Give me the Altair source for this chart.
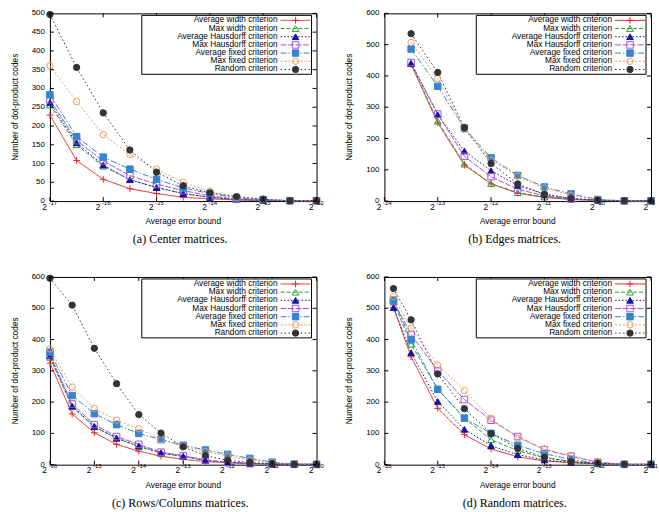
import altair as alt
import pandas as pd

SERIES = [
    "Average width criterion",
    "Max width criterion",
    "Average Hausdorff criterion",
    "Max Hausdorff criterion",
    "Average fixed criterion",
    "Max fixed criterion",
    "Random criterion",
]
COLORS = ["#e3262a", "#2e9e2e", "#14149c", "#a452e0", "#3584d0", "#f29b5c", "#333333"]
FILLS = ["transparent", "transparent", "#14149c", "transparent", "#3584d0", "transparent", "#333333"]
SHAPES = ["M-1,0H1M0,-1V1", "triangle-up", "triangle-up", "square", "square", "circle", "circle"]
SIZES = [45, 40, 30, 40, 34, 55, 45]
DASHES = [[1, 0], [4, 2], [1.5, 2], [6, 1.5], [6, 2, 1.5, 2], [2, 2], [1.5, 2.5]]

# ---------------- (a) Center matrices ----------------
A_X = [-17, -16.5, -16, -15.5, -15, -14.5, -14, -13.5, -13, -12.5, -12]
A_AVG_WIDTH = [229, 108, 58, 33, 20, 10, 6, 3, 2, 1, 1]
A_MAX_WIDTH = [256, 150, 93, 57, 36, 20, 10, 4, 2, 1, 1]
A_AVG_HAUS = [262, 155, 96, 57, 36, 20, 10, 4, 2, 1, 1]
A_MAX_HAUS = [270, 161, 107, 68, 45, 28, 14, 5, 3, 1, 1]
A_AVG_FIXED = [283, 172, 117, 85, 58, 35, 20, 8, 4, 1, 1]
A_MAX_FIXED = [360, 265, 177, 124, 85, 50, 26, 10, 5, 1, 1]
A_RANDOM = [497, 356, 235, 136, 77, 41, 22, 12, 5, 1, 1]
A_XTICKS = [-17, -16, -15, -14, -13, -12]
A_YTICKS = [0, 50, 100, 150, 200, 250, 300, 350, 400, 450, 500]

# ---------------- (b) Edges matrices ----------------
B_X = [-13.5, -13, -12.5, -12, -11.5, -11, -10.5, -10, -9.5, -9]
B_AVG_WIDTH = [437, 250, 115, 55, 25, 12, 5, 2, 1, 1]
B_MAX_WIDTH = [440, 255, 118, 56, 27, 13, 6, 2, 1, 1]
B_AVG_HAUS = [440, 276, 160, 97, 50, 22, 8, 3, 1, 1]
B_MAX_HAUS = [443, 278, 143, 78, 38, 17, 7, 3, 1, 1]
B_AVG_FIXED = [486, 367, 233, 138, 82, 45, 23, 5, 1, 1]
B_MAX_FIXED = [507, 392, 228, 131, 80, 42, 19, 4, 1, 1]
B_RANDOM = [535, 411, 235, 120, 55, 22, 8, 3, 1, 1]
B_XTICKS = [-14, -13, -12, -11, -10, -9]
B_YTICKS = [0, 100, 200, 300, 400, 500, 600]

# ---------------- (c) Rows/Columns matrices ----------------
C_X = [-16, -15.5, -15, -14.5, -14, -13.5, -13, -12.5, -12, -11.5, -11, -10.5, -10]
C_AVG_WIDTH = [325, 162, 102, 65, 43, 27, 17, 10, 6, 3, 2, 1, 1]
C_MAX_WIDTH = [343, 185, 121, 84, 58, 37, 26, 13, 8, 4, 2, 1, 1]
C_AVG_HAUS = [348, 187, 122, 85, 60, 38, 27, 14, 8, 4, 2, 1, 1]
C_MAX_HAUS = [352, 194, 128, 90, 65, 40, 29, 15, 7, 3, 2, 1, 1]
C_AVG_FIXED = [360, 221, 163, 128, 100, 80, 62, 47, 33, 20, 8, 2, 1]
C_MAX_FIXED = [370, 248, 180, 142, 115, 80, 59, 42, 28, 15, 6, 2, 1]
C_RANDOM = [596, 510, 372, 259, 160, 101, 57, 29, 14, 7, 3, 1, 1]
C_XTICKS = [-16, -15, -14, -13, -12, -11, -10]
C_YTICKS = [0, 100, 200, 300, 400, 500, 600]

# ---------------- (d) Random matrices ----------------
D_X = [-15.83, -15.5, -15, -14.5, -14, -13.5, -13, -12.5, -12, -11.5, -11]
D_AVG_WIDTH = [503, 345, 180, 96, 50, 25, 12, 6, 3, 1, 1]
D_MAX_WIDTH = [520, 385, 242, 149, 80, 45, 22, 10, 4, 1, 1]
D_AVG_HAUS = [502, 358, 202, 113, 61, 32, 15, 7, 3, 1, 1]
D_MAX_HAUS = [523, 416, 300, 208, 142, 90, 48, 27, 8, 1, 1]
D_AVG_FIXED = [526, 399, 241, 149, 100, 62, 35, 17, 5, 1, 1]
D_MAX_FIXED = [537, 436, 318, 237, 148, 85, 50, 29, 8, 1, 1]
D_RANDOM = [563, 463, 290, 179, 100, 52, 24, 10, 5, 1, 1]
D_XTICKS = [-16, -15, -14, -13, -12, -11]
D_YTICKS = [0, 100, 200, 300, 400, 500, 600]

X_TITLE = "Average error bound"
Y_TITLE = "Number of dot-product codes"

W, H = 267, 188
FONT = "Liberation Sans"
TXT = 8.3


def panel(xs, series_values, xticks, yticks, caption):
    rows = []
    for name, vals in zip(SERIES, series_values):
        for x, v in zip(xs, vals):
            rows.append({"series": name, "e": x, "v": v})
    df = pd.DataFrame(rows)

    xsc = alt.Scale(domain=[xticks[0], xticks[-1]], nice=False, zero=False)
    ysc = alt.Scale(domain=[yticks[0], yticks[-1]], nice=False, zero=False)
    col = alt.Color("series:N", scale=alt.Scale(domain=SERIES, range=COLORS), legend=None)
    dash = alt.StrokeDash("series:N", scale=alt.Scale(domain=SERIES, range=DASHES), legend=None)
    shp = alt.Shape("series:N", scale=alt.Scale(domain=SERIES, range=SHAPES), legend=None)
    stk = alt.Stroke("series:N", scale=alt.Scale(domain=SERIES, range=COLORS), legend=None)
    fil = alt.Fill("series:N", scale=alt.Scale(domain=SERIES, range=FILLS), legend=None)
    siz = alt.Size("series:N", scale=alt.Scale(domain=SERIES, range=SIZES), legend=None)
    xn = alt.X("e:Q", scale=xsc, axis=None)
    yn = alt.Y("v:Q", scale=ysc, axis=None)

    base = alt.Chart(df)
    lines = base.mark_line(strokeWidth=1).encode(
        x=xn, y=yn, color=col, strokeDash=dash, order=alt.Order("e:Q"),
    )
    points = base.mark_point(strokeWidth=1, opacity=1).encode(
        x=xn, y=yn, shape=shp, stroke=stk, fill=fil, size=siz,
    )

    ytk = alt.Chart(pd.DataFrame({"v": yticks, "lab": [str(t) for t in yticks]}))
    xtk = alt.Chart(pd.DataFrame({"e": xticks, "exp": [str(t) for t in xticks]}))
    tl = ytk.mark_rule(color="black", strokeWidth=1).encode(y=yn, x=alt.value(0), x2=alt.value(4))
    tr = ytk.mark_rule(color="black", strokeWidth=1).encode(y=yn, x=alt.value(W - 4), x2=alt.value(W))
    tb = xtk.mark_rule(color="black", strokeWidth=1).encode(x=xn, y=alt.value(H - 4), y2=alt.value(H))
    tt = xtk.mark_rule(color="black", strokeWidth=1).encode(x=xn, y=alt.value(0), y2=alt.value(4))
    ylab = ytk.mark_text(align="right", baseline="middle", fontSize=8, font=FONT,
                         color="black", dx=-5).encode(x=alt.value(0), y=yn, text="lab:N")
    lab2 = xtk.mark_text(text="2", align="right", baseline="alphabetic", fontSize=8.3,
                         font=FONT, dx=-3, color="black").encode(x=xn, y=alt.value(H + 8.5))
    labe = xtk.mark_text(align="left", baseline="alphabetic", fontSize=6,
                         font=FONT, dx=-1.4, color="black").encode(
        x=xn, y=alt.value(H + 3.6), text="exp:N")

    one = alt.Chart(pd.DataFrame({"xt": [X_TITLE], "yt": [Y_TITLE]}))
    xtitle = one.mark_text(align="center", baseline="alphabetic", fontSize=TXT, font=FONT,
                           color="black").encode(x=alt.value(W / 2), y=alt.value(H + 23), text="xt:N")
    ytitle = one.mark_text(align="center", baseline="middle", fontSize=TXT, font=FONT,
                           color="black", angle=270).encode(x=alt.value(-34), y=alt.value(H / 2), text="yt:N")

    main = alt.layer(lines, points, tl, tr, tb, tt, ylab, lab2, labe, xtitle, ytitle)

    # legend, drawn in rows through its own (independent) y scale
    leg = pd.DataFrame({"series": SERIES, "row": list(range(len(SERIES)))})
    lg = alt.Chart(leg)
    ly = alt.Y("row:Q", axis=None,
               scale=alt.Scale(domain=[0, len(SERIES) - 1], range=[7.0, 7.0 + 8.2 * (len(SERIES) - 1)],
                               nice=False, zero=False))
    box = alt.Chart(pd.DataFrame({"k": [0]})).mark_rect(
        fill="white", stroke="black", strokeWidth=1).encode(
        x=alt.value(92), x2=alt.value(262), y=alt.value(2), y2=alt.value(61))
    ltext = lg.mark_text(align="right", baseline="middle", fontSize=TXT, font=FONT,
                         color="black").encode(x=alt.value(228), y=ly, text="series:N")
    lrule = lg.mark_rule(strokeWidth=1).encode(
        x=alt.value(231), x2=alt.value(261), y=ly, color=col, strokeDash=dash)
    lpt = lg.mark_point(strokeWidth=1, opacity=1).encode(
        x=alt.value(246), y=ly, shape=shp, stroke=stk, fill=fil, size=siz)
    legend = alt.layer(box, ltext, lrule, lpt)

    return alt.layer(main, legend).resolve_scale(y="independent").properties(
        width=W, height=H,
        title=alt.TitleParams(text=caption, orient="bottom", font="Liberation Serif",
                              fontSize=12, fontWeight="normal", color="black",
                              offset=9, dx=-3),
    )


pa = panel(A_X, [A_AVG_WIDTH, A_MAX_WIDTH, A_AVG_HAUS, A_MAX_HAUS, A_AVG_FIXED, A_MAX_FIXED, A_RANDOM],
           A_XTICKS, A_YTICKS, "(a) Center matrices.")
pb = panel(B_X, [B_AVG_WIDTH, B_MAX_WIDTH, B_AVG_HAUS, B_MAX_HAUS, B_AVG_FIXED, B_MAX_FIXED, B_RANDOM],
           B_XTICKS, B_YTICKS, "(b) Edges matrices.")
pc = panel(C_X, [C_AVG_WIDTH, C_MAX_WIDTH, C_AVG_HAUS, C_MAX_HAUS, C_AVG_FIXED, C_MAX_FIXED, C_RANDOM],
           C_XTICKS, C_YTICKS, "(c) Rows/Columns matrices.")
pd_ = panel(D_X, [D_AVG_WIDTH, D_MAX_WIDTH, D_AVG_HAUS, D_MAX_HAUS, D_AVG_FIXED, D_MAX_FIXED, D_RANDOM],
            D_XTICKS, D_YTICKS, "(d) Random matrices.")

chart = alt.concat(pa, pb, pc, pd_, columns=2, spacing={"row": 76, "column": 68},
                   bounds="flush").properties(
    padding={"left": 10, "top": 8, "right": 0, "bottom": 0},
    background="white",
).configure_view(stroke="black", strokeWidth=1)

chart.save("out.html", embed_options={"renderer": "svg", "actions": False})
